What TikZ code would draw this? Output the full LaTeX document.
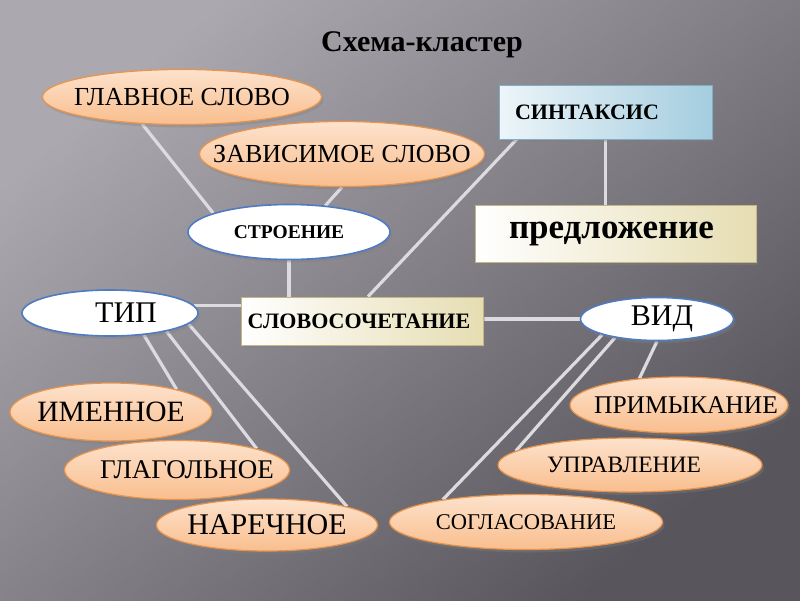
\documentclass[tikz,border=0pt]{standalone}
\usepackage{fontspec}
\setmainfont{Liberation Serif}
\usetikzlibrary{shapes,shadows,backgrounds,positioning}

\definecolor{bgLight}{HTML}{ACA8B0}
\definecolor{bgDark}{HTML}{58565C}
\definecolor{peachTop}{HTML}{FDE2CC}
\definecolor{peachBot}{HTML}{F9BE8E}
\definecolor{peachLine}{HTML}{E8944C}
\definecolor{ovalBlue}{HTML}{4F7BC0}
\definecolor{creamR}{HTML}{E6DDB2}
\definecolor{creamLine}{HTML}{C4B783}
\definecolor{skyR}{HTML}{A4CDDF}
\definecolor{skyLine}{HTML}{7FAFC6}
\definecolor{linkGray}{HTML}{DCDCE0}

% text of an oval, centred on a box of no width (so the oval keeps its size)
\newcommand\ovtext[2][0pt]{\makebox[0pt]{\hspace*{#1}#2\hspace*{-#1}}}

\tikzset{
  shade/.style={drop shadow={opacity=.35,shadow xshift=2pt,shadow yshift=-3pt}},
  oval/.style={ellipse,draw=peachLine,line width=1.2pt,top color=peachTop,
    bottom color=peachBot,inner sep=0pt,shade},
  whiteoval/.style={ellipse,draw=ovalBlue,line width=1.6pt,fill=white,inner sep=0pt,shade},
  creambox/.style={rectangle,draw=creamLine,line width=.8pt,left color=white,
    right color=creamR,inner sep=0pt,shade},
  bluebox/.style={rectangle,draw=skyLine,line width=.8pt,left color=white!80!skyR,
    right color=skyR,inner sep=0pt,shade},
  link/.style={draw=linkGray,line width=3.2pt}
}

\begin{document}
\begin{tikzpicture}[x=1pt,y=-1pt]
    \useasboundingbox (0,0) rectangle (800,600);
    \node[font=\bfseries\fontsize{30}{32}\selectfont] (title) at (422,45) {Схема-кластер};
    %% upper part
    \node[oval,minimum width=279pt,minimum height=55pt,font=\fontsize{26}{28}\selectfont]
      (glav) at (182,97) {\ovtext{ГЛАВНОЕ СЛОВО}};
    \node[oval,minimum width=285pt,minimum height=65pt,font=\fontsize{26}{28}\selectfont]
      (zavis) at (342,154) {\ovtext{ЗАВИСИМОЕ СЛОВО}};
    \node[whiteoval,minimum width=202pt,minimum height=55pt,font=\bfseries\fontsize{19.5}{21}\selectfont]
      (stroenie) at (289,232) {\ovtext{СТРОЕНИЕ}};
    \node[bluebox,minimum height=54pt,inner xsep=16pt,text width=181pt,align=left,
      font=\bfseries\fontsize{22}{24}\selectfont] (sint) at (605.5,112) {СИНТАКСИС};
    \node[creambox,minimum width=281pt,minimum height=57pt,font=\bfseries\fontsize{35}{37}\selectfont]
      (pred) at (615.5,233.5) {\ovtext[-4pt]{предложение}};
    %% middle row
    \node[creambox,minimum width=242pt,minimum height=48pt,font=\bfseries\fontsize{22}{24}\selectfont]
      (slovo) at (362,321) {\ovtext[-3pt]{СЛОВОСОЧЕТАНИЕ}};
    \node[whiteoval,minimum width=176pt,minimum height=46pt,font=\fontsize{30}{32}\selectfont]
      (tip) at (110,313) {\ovtext[16pt]{ТИП}};
    \node[whiteoval,minimum width=153pt,minimum height=43pt,font=\fontsize{30}{32}\selectfont]
      (vid) at (657,319) {\ovtext[5pt]{ВИД}};
    %% kinds by main word
    \node[oval,minimum width=202pt,minimum height=58pt,font=\fontsize{29.5}{32}\selectfont]
      (imen) at (111,412) {\ovtext{ИМЕННОЕ}};
    \node[oval,minimum width=225pt,minimum height=59pt,font=\fontsize{27}{30}\selectfont]
      (glag) at (177,470) {\ovtext[10pt]{ГЛАГОЛЬНОЕ}};
    \node[oval,minimum width=221pt,minimum height=52pt,font=\fontsize{30}{32}\selectfont]
      (narech) at (267,525) {\ovtext{НАРЕЧНОЕ}};
    %% kinds of link
    \node[oval,minimum width=218pt,minimum height=56pt,font=\fontsize{25.5}{28}\selectfont]
      (prim) at (679,405) {\ovtext[7pt]{ПРИМЫКАНИЕ}};
    \node[oval,minimum width=264pt,minimum height=54pt,font=\fontsize{23.5}{26}\selectfont]
      (uprav) at (630,465) {\ovtext[-6pt]{УПРАВЛЕНИЕ}};
    \node[oval,minimum width=273pt,minimum height=55pt,font=\fontsize{22.5}{25}\selectfont]
      (sogl) at (526,522) {\ovtext{СОГЛАСОВАНИЕ}};
    %% background and connectors
    \begin{scope}[on background layer]
    \shade[top color=bgLight,bottom color=bgDark,shading angle=40] (0,0) rectangle (800,600);
    \draw[link] (glav.214) -- (stroenie.166);
    \draw[link] (zavis.south) -- (stroenie.36);
    \draw[link] (stroenie.south) -- (stroenie.south |- slovo.north);
    \draw[link] ([xshift=18pt]sint.south west) -- ([xshift=6pt]slovo.north);
    \draw[link] (sint.south) -- (sint.south |- pred.north);
    \draw[link] (tip.5) -- (tip.5 -| slovo.west);
    \draw[link] (vid.west -| slovo.east) -- (vid.west);
    %%
    \draw[link] (tip.-33) -- (imen.19);
    \draw[link] (tip.-18) -- (glag.15);
    \draw[link] (tip.-8) -- (narech.13);
    %%
    \draw[link] (vid.196) -- (sogl.165);
    \draw[link] (vid.204) -- (uprav.173);
    \draw[link] (vid.south) -- (prim.146);
    \end{scope}
\end{tikzpicture}
\end{document}
